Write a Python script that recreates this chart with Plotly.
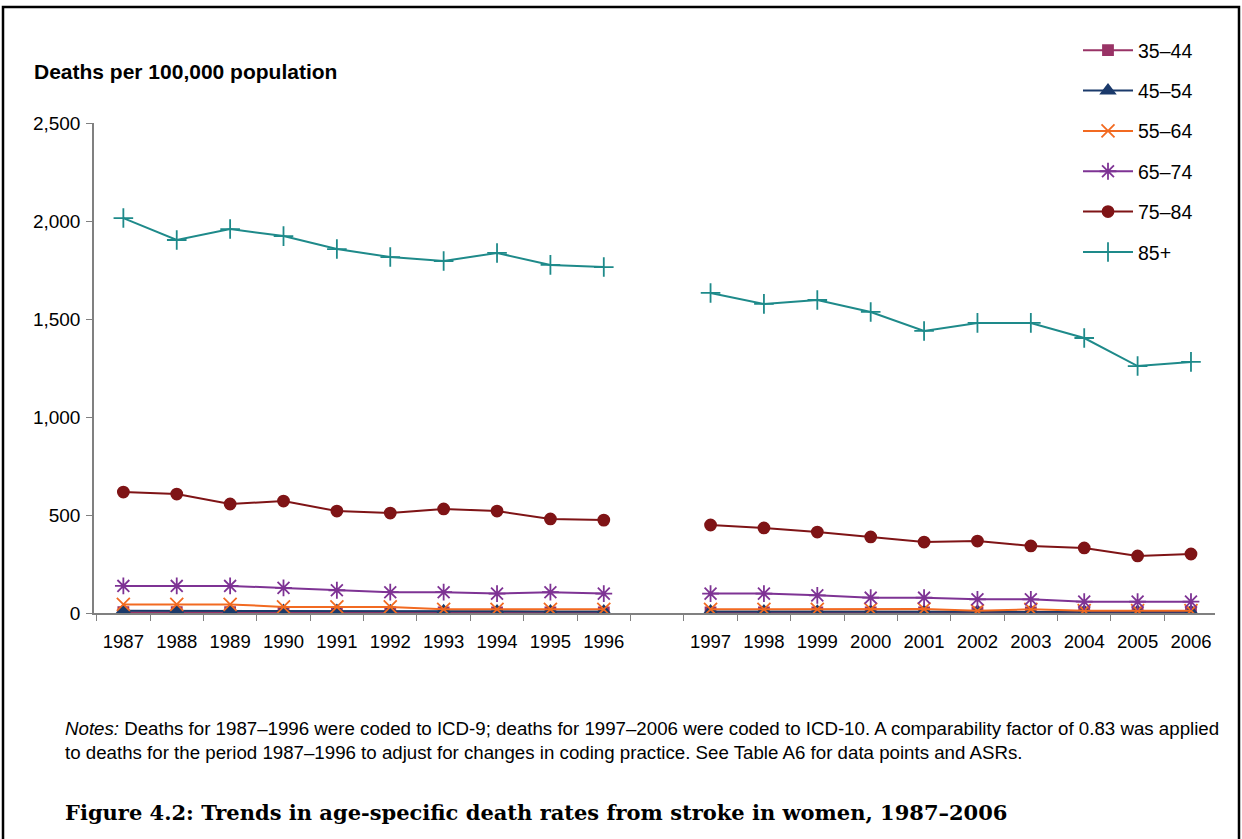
import plotly.graph_objects as go

years_a = ["1987", "1988", "1989", "1990", "1991", "1992", "1993", "1994", "1995", "1996"]
years_b = ["1997", "1998", "1999", "2000", "2001", "2002", "2003", "2004", "2005", "2006"]
gap_label = " "
categories = years_a + [gap_label] + years_b

age_35_44 = [4, 4, 4, 3, 3, 3, 3, 3, 3, 3, 3, 3, 3, 3, 3, 3, 3, 3, 2, 3]
age_45_54 = [12, 11, 11, 10, 10, 9, 9, 8, 8, 8, 8, 8, 7, 7, 7, 6, 7, 6, 6, 6]
age_55_64 = [44, 44, 44, 31, 31, 31, 19, 19, 19, 19, 19, 19, 19, 19, 20, 11, 19, 12, 12, 12]
age_65_74 = [138, 138, 138, 128, 116, 106, 106, 99, 106, 99, 99, 99, 90, 78, 78, 70, 70, 58, 58, 58]
age_75_84 = [617, 607, 556, 571, 520, 510, 531, 520, 480, 474, 449, 434, 413, 388, 362, 367, 342, 332, 291, 301]
age_85p = [2015, 1903, 1959, 1923, 1857, 1816, 1796, 1837, 1776, 1765, 1633, 1577, 1597, 1536, 1439, 1480, 1480, 1403, 1260, 1281]

series_names = ["35–44", "45–54", "55–64", "65–74", "75–84", "85+"]
series_vals = [age_35_44, age_45_54, age_55_64, age_65_74, age_75_84, age_85p]
colors = ["#993366", "#1B3A6B", "#F26A21", "#7E3394", "#7F1416", "#1E8A8A"]
symbols = ["square", "triangle-up", "x-thin-open", "asterisk-open", "circle", "cross-thin-open"]
sizes = [10, 12, 13, 14, 11, 14]

def with_gap(v):
    return v[:10] + [None] + v[10:]

fig = go.Figure()
for name, vals, c, s, sz in zip(series_names, series_vals, colors, symbols, sizes):
    fig.add_trace(go.Scatter(
        x=categories, y=with_gap(vals), name=name, mode="lines+markers",
        connectgaps=False, legendgroup=name,
        line=dict(color=c, width=2),
        marker=dict(symbol=s, size=sz, color=c, line=dict(color=c, width=1.8)),
    ))

W, H = 1242, 839
L, R, T, B = 94, 27, 123, 226
pw, ph = W - L - R, H - T - B

def px(x):
    return (x - L) / pw

def py(y):
    return (H - B - y) / ph

fig.update_layout(
    width=W, height=H,
    margin=dict(l=L, r=R, t=T, b=B),
    paper_bgcolor="white", plot_bgcolor="white",
    font=dict(family="Liberation Sans, Arial, sans-serif", color="black", size=18),
    legend=dict(x=px(1078), y=py(31), xanchor="left", yanchor="top",
                font=dict(size=19.5), tracegroupgap=12, itemwidth=50,
                bgcolor="rgba(0,0,0,0)"),
    xaxis=dict(type="category", categoryorder="array", categoryarray=categories,
               showline=True, linecolor="#808080", linewidth=1.5,
               ticks="outside", tickson="boundaries", ticklen=6, tickcolor="#808080",
               showgrid=False, tickfont=dict(size=18.5), ticklabelstandoff=11,
               range=[-0.55, 20.45]),
    yaxis=dict(range=[0, 2500], tickvals=[0, 500, 1000, 1500, 2000, 2500],
               tickformat=",d", showline=True, linecolor="#808080", linewidth=1.5,
               ticks="outside", ticklen=6, tickcolor="#808080", showgrid=False,
               zeroline=False, tickfont=dict(size=19), ticklabelstandoff=2),
    showlegend=True,
)

fig.add_annotation(text="<b>Deaths per 100,000 population</b>", xref="paper", yref="paper",
                   x=px(32), y=py(71), xanchor="left", yanchor="middle", showarrow=False,
                   font=dict(size=21))
fig.add_annotation(
    text="<i>Notes:</i> Deaths for 1987–1996 were coded to ICD-9; deaths for 1997–2006 were coded to ICD-10. A comparability factor of 0.83 was applied<br>to deaths for the period 1987–1996 to adjust for changes in coding practice. See Table A6 for data points and ASRs.",
    xref="paper", yref="paper", x=px(63), y=py(716), xanchor="left", yanchor="top",
    align="left", showarrow=False, font=dict(size=18.7))
fig.add_annotation(
    text="<b>Figure 4.2: Trends in age-specific death rates from stroke in women, 1987–2006</b>",
    xref="paper", yref="paper", x=px(63), y=py(812), xanchor="left", yanchor="middle",
    showarrow=False, font=dict(size=21, family="DejaVu Serif, serif"))

fig.add_shape(type="rect", xref="paper", yref="paper", x0=px(3), x1=px(1239),
              y0=py(845), y1=py(7), line=dict(color="black", width=2.5), layer="below")

fig.write_html("out.html", config={"displayModeBar": False},
               post_script="document.body.style.margin='0px';document.body.style.padding='0px';")
